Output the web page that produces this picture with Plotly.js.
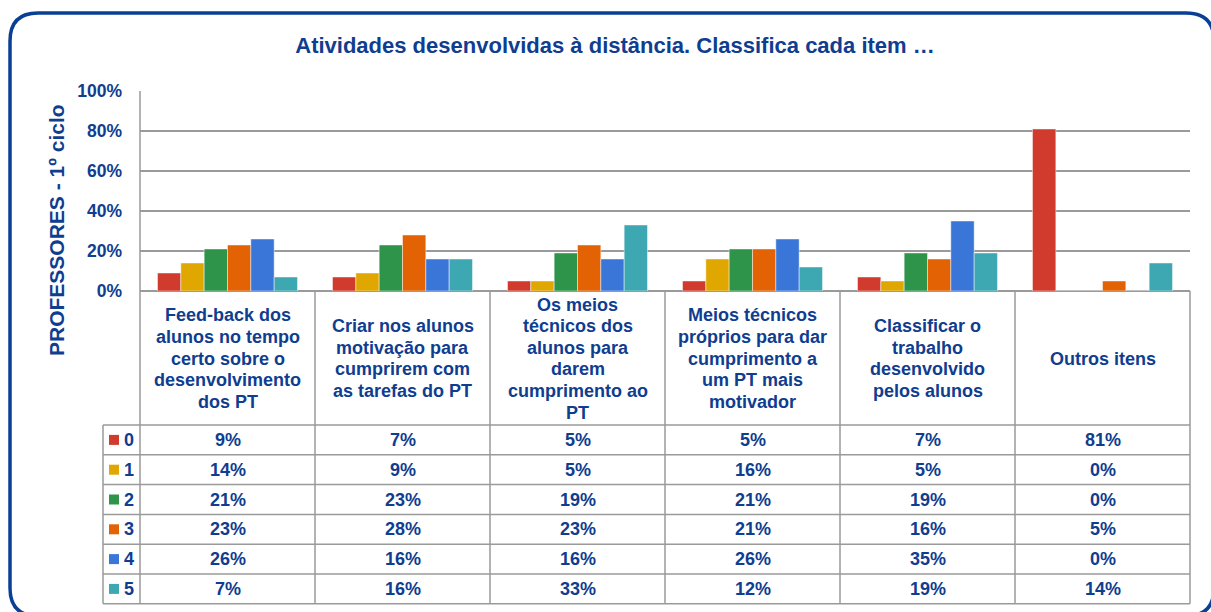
<!DOCTYPE html>
<html><head><meta charset="utf-8">
<script src="https://cdn.plot.ly/plotly-3.0.1.min.js"></script>
<style>html,body{margin:0;padding:0;background:#fff;}#chart{width:1211px;height:612px;}</style>
</head><body><div id="chart"></div>
<script>
// ---- data ----
const categories = [
  "Feed-back dos alunos no tempo certo sobre o desenvolvimento dos PT",
  "Criar nos alunos motivação para cumprirem com as tarefas do PT",
  "Os meios técnicos dos alunos para darem cumprimento ao PT",
  "Meios técnicos próprios para dar cumprimento a um PT mais motivador",
  "Classificar o trabalho desenvolvido pelos alunos",
  "Outros itens"
];
const categoryLabels = [
  "Feed-back dos<br>alunos no tempo<br>certo sobre o<br>desenvolvimento<br>dos PT",
  "Criar nos alunos<br>motivação para<br>cumprirem com<br>as tarefas do PT",
  "Os meios<br>técnicos dos<br>alunos para<br>darem<br>cumprimento ao<br>PT",
  "Meios técnicos<br>próprios para dar<br>cumprimento a<br>um PT mais<br>motivador",
  "Classificar o<br>trabalho<br>desenvolvido<br>pelos alunos",
  "Outros itens"
];
const seriesNames = ["0", "1", "2", "3", "4", "5"];
const s0 = [9, 7, 5, 5, 7, 81];
const s1 = [14, 9, 5, 16, 5, 0];
const s2 = [21, 23, 19, 21, 19, 0];
const s3 = [23, 28, 23, 21, 16, 5];
const s4 = [26, 16, 16, 26, 35, 0];
const s5 = [7, 16, 33, 12, 19, 14];
const seriesValues = [s0, s1, s2, s3, s4, s5];
const yTicks = [0, 20, 40, 60, 80, 100];
const titleText = "Atividades desenvolvidas à distância. Classifica cada item …";
const yTitleText = "PROFESSORES - 1º ciclo";

// ---- style ----
const colors = ["#d03b2e", "#dfa700", "#2e9449", "#e26204", "#3a76d8", "#3ea8b2"];
const BLUE = "#0f3d8f";
const GRID = "#9a9a9a";
const FONT = "Liberation Sans, Arial, sans-serif";
const W = 1211, H = 612;
const X = px => px / W;
const Y = py => 1 - py / H;

// layout geometry (pixels)
const plotL = 140, plotR = 1190, plotT = 91, plotB = 291;
const headerB = 425, rowH = 29.8, legL = 103, headLineH = 21.6;

const traces = seriesValues.map((vals, i) => ({
  type: "bar",
  name: seriesNames[i],
  x: categories,
  y: vals,
  marker: { color: colors[i], line: { color: "rgba(255,255,255,0.45)", width: 1 } },
  hoverinfo: "x+y+name"
}));

const shapes = [];
const annotations = [];

// frame
const fr = { l: 10, t: 13, r: 1214, b: 616, rad: 28 };
shapes.push({
  type: "path", xref: "paper", yref: "paper",
  path: `M ${X(fr.l)},${Y(fr.t + fr.rad)} Q ${X(fr.l)},${Y(fr.t)} ${X(fr.l + fr.rad)},${Y(fr.t)} ` +
        `L ${X(fr.r - fr.rad)},${Y(fr.t)} Q ${X(fr.r)},${Y(fr.t)} ${X(fr.r)},${Y(fr.t + fr.rad)} ` +
        `L ${X(fr.r)},${Y(fr.b - fr.rad)} Q ${X(fr.r)},${Y(fr.b)} ${X(fr.r - fr.rad)},${Y(fr.b)} ` +
        `L ${X(fr.l + fr.rad)},${Y(fr.b)} Q ${X(fr.l)},${Y(fr.b)} ${X(fr.l)},${Y(fr.b - fr.rad)} Z`,
  line: { color: "#0a3f96", width: 3.5 }, layer: "below"
});

const tableBottom = headerB + rowH * seriesNames.length;
const colW = (plotR - plotL) / categories.length;
const line = (x0, y0, x1, y1) => shapes.push({
  type: "line", xref: "paper", yref: "paper",
  x0: X(x0), y0: Y(y0), x1: X(x1), y1: Y(y1),
  line: { color: GRID, width: 1.5 }
});
// vertical column lines
for (let c = 0; c <= categories.length; c++) {
  const xx = plotL + c * colW;
  line(xx, c === 0 ? plotT : plotB, xx, tableBottom);
}
// horizontal table lines
line(legL, headerB, plotR, headerB);
for (let r = 1; r <= seriesNames.length; r++) {
  line(legL, headerB + r * rowH, plotR, headerB + r * rowH);
}
line(legL, headerB, legL, tableBottom);

// header labels (one annotation per line for tight line spacing)
const headCenter = 358.5;
categories.forEach((c, i) => {
  const lines = categoryLabels[i].split("<br>");
  lines.forEach((t, j) => {
    annotations.push({
      xref: "x", yref: "paper", x: c,
      y: Y(headCenter + (j - (lines.length - 1) / 2) * headLineH),
      text: t, showarrow: false, xanchor: "center", yanchor: "middle",
      font: { family: FONT, size: 18, color: BLUE }
    });
  });
});

// rows
seriesNames.forEach((s, r) => {
  const cy = headerB + rowH * (r + 0.5);
  shapes.push({
    type: "rect", xref: "paper", yref: "paper",
    x0: X(109), x1: X(119), y0: Y(cy - 5), y1: Y(cy + 5),
    fillcolor: colors[r], line: { width: 0 }
  });
  annotations.push({
    xref: "paper", yref: "paper", x: X(121.5), y: Y(cy), text: s,
    showarrow: false, xanchor: "left", yanchor: "middle",
    font: { family: FONT, size: 18, color: BLUE }
  });
  categories.forEach((c, i) => {
    annotations.push({
      xref: "x", yref: "paper", x: c, y: Y(cy),
      text: seriesValues[r][i] + "%", showarrow: false, xanchor: "center", yanchor: "middle",
      font: { family: FONT, size: 18, color: BLUE }
    });
  });
});

// y-axis title
annotations.push({
  xref: "paper", yref: "paper", x: X(56), y: Y(230), textangle: -90,
  text: yTitleText, showarrow: false, xanchor: "center", yanchor: "middle",
  font: { family: FONT, size: 21, color: BLUE }
});

const layout = {
  width: W, height: H,
  margin: { l: 0, r: 0, t: 0, b: 0 },
  paper_bgcolor: "#ffffff", plot_bgcolor: "rgba(0,0,0,0)",
  showlegend: false,
  barmode: "group", bargap: 0.2, bargroupgap: 0,
  title: {
    text: titleText, x: X(615), xanchor: "center", y: Y(45), yanchor: "middle",
    xref: "paper", yref: "paper",
    font: { family: FONT, size: 22, color: BLUE, weight: "bold" }
  },
  xaxis: {
    domain: [X(plotL), X(plotR)], showticklabels: false, showgrid: false,
    zeroline: false, showline: false, ticks: "", fixedrange: true
  },
  yaxis: {
    domain: [Y(plotB), Y(plotT)], range: [0, 100], tickvals: yTicks,
    ticktext: yTicks.map(v => v + "%"),
    showgrid: true, gridcolor: GRID, gridwidth: 1.5,
    zeroline: true, zerolinecolor: GRID, zerolinewidth: 1.5,
    showline: false, ticks: "", ticklabelstandoff: 17,
    tickfont: { family: FONT, size: 17.5, color: BLUE, weight: "bold" },
    fixedrange: true
  },
  font: { family: FONT, color: BLUE, weight: "bold" },
  shapes: shapes,
  annotations: annotations.map(a => { a.font.weight = "bold"; return a; })
};

Plotly.newPlot("chart", traces, layout, { displayModeBar: false, staticPlot: true });
</script>
</body></html>
